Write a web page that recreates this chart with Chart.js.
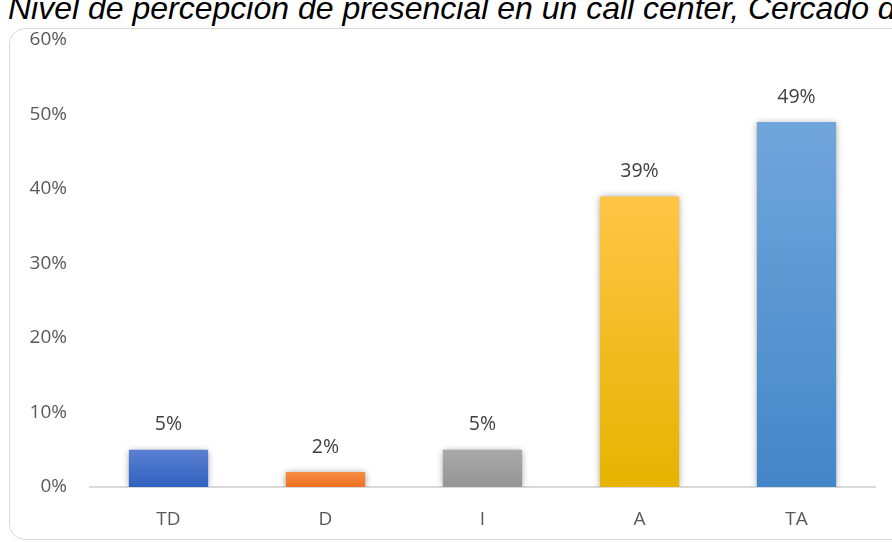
<!DOCTYPE html>
<html>
<head>
<meta charset="utf-8">
<script src="https://cdn.jsdelivr.net/npm/chart.js"></script>
<style>
  html, body { margin: 0; padding: 0; background: #fff; overflow: hidden; }
  #wrap { position: relative; width: 892px; height: 542px; }
  #title {
    position: absolute; left: 8px; top: -10px; white-space: nowrap;
    font: italic 32px "Liberation Sans", Arial, sans-serif; color: #000;
    line-height: 36px;
  }
  #frame {
    position: absolute; left: 9px; top: 28px; width: 900px; height: 512px;
    border: 1.5px solid #d9d9d9; border-radius: 16px; box-sizing: border-box;
  }
  #chart { position: absolute; left: 0; top: 0; }
</style>
</head>
<body>
<div id="wrap">
  <div id="title">Nivel de percepción de presencial en un call center, Cercado de Lima</div>
  <div id="frame"></div>
  <canvas id="chart" width="892" height="542"></canvas>
</div>
<script>
const categories = ['TD', 'D', 'I', 'A', 'TA'];
const percentages = [5, 2, 5, 39, 49];
// top and bottom colour of each bar's vertical gradient
const topColors = ['#5b80d3', '#f68c44', '#a9a9a9', '#ffc547', '#71a6dc'];
const bottomColors = ['#2f62bf', '#ee7121', '#959595', '#e6b300', '#4486c8'];

function barGradient(context) {
  const chart = context.chart;
  const area = chart.chartArea;
  if (!area) return topColors[context.dataIndex];
  const y = chart.scales.y;
  const top = y.getPixelForValue(percentages[context.dataIndex]);
  const g = chart.ctx.createLinearGradient(0, top, 0, area.bottom);
  g.addColorStop(0, topColors[context.dataIndex]);
  g.addColorStop(1, bottomColors[context.dataIndex]);
  return g;
}

const barShadow = {
  id: 'barShadow',
  beforeDatasetDraw(chart) {
    const ctx = chart.ctx;
    ctx.save();
    ctx.shadowColor = 'rgba(0,0,0,0.4)';
    ctx.shadowBlur = 7;
    ctx.shadowOffsetX = 0;
    ctx.shadowOffsetY = 1;
  },
  afterDatasetDraw(chart) {
    chart.ctx.restore();
  }
};

const valueLabels = {
  id: 'valueLabels',
  afterDatasetsDraw(chart) {
    const ctx = chart.ctx;
    const meta = chart.getDatasetMeta(0);
    ctx.save();
    ctx.font = '19.5px "Open Sans", sans-serif';
    ctx.fillStyle = '#404040';
    ctx.textAlign = 'center';
    ctx.textBaseline = 'middle';
    meta.data.forEach((bar, i) => {
      ctx.fillText(percentages[i] + '%', bar.x, bar.y - 25);
    });
    ctx.restore();
  }
};

new Chart(document.getElementById('chart'), {
  type: 'bar',
  data: {
    labels: categories,
    datasets: [{
      data: percentages,
      backgroundColor: barGradient,
      borderWidth: 0,
      categoryPercentage: 1,
      barPercentage: 0.505
    }]
  },
  options: {
    responsive: false,
    animation: false,
    layout: { padding: { top: 40, right: 17, bottom: 0, left: 0 } },
    plugins: { legend: { display: false }, tooltip: { enabled: false } },
    scales: {
      x: {
        afterFit: s => { s.height = 55; },
        grid: { color: 'transparent', drawTicks: false },
        border: { color: '#d9d9d9', width: 2 },
        ticks: { padding: 21, color: '#595959', font: { family: 'Open Sans', size: 19 } }
      },
      y: {
        min: 0,
        max: 60,
        afterFit: s => { s.width = 90; },
        grid: { display: false, drawTicks: false },
        border: { display: false },
        ticks: {
          stepSize: 10,
          padding: 23,
          color: '#595959',
          font: { family: 'Open Sans', size: 19 },
          callback: v => v + '%'
        }
      }
    }
  },
  plugins: [barShadow, valueLabels]
});
</script>
</body>
</html>
